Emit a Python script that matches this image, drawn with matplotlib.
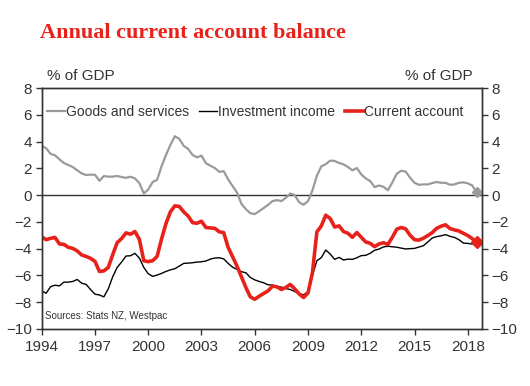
import numpy as np
import matplotlib
matplotlib.use("Agg")
import matplotlib.pyplot as plt

# quarterly series, % of GDP, 1994Q1 .. 2018Q3
goods_services = [
    3.68, 3.5, 3.08, 2.97, 2.67, 2.4, 2.25, 2.1, 1.85, 1.62, 1.5, 1.53, 1.52, 1.07, 1.42, 1.38,
    1.38, 1.43, 1.35, 1.29, 1.37, 1.25, 0.9, 0.12, 0.42, 0.98,
    1.15, 2.15, 3.0, 3.75, 4.4, 4.2, 3.68, 3.45, 3.0, 2.82, 2.95, 2.38, 2.2, 2.02, 1.74, 1.79,
    1.18, 0.68, 0.2, -0.65, -1.05, -1.35, -1.42,
    -1.2, -0.97, -0.73, -0.45, -0.37, -0.45, -0.2, 0.12, 0.0, -0.53, -0.72, -0.45, 0.35, 1.45,
    2.15, 2.31, 2.58, 2.55, 2.4, 2.3, 2.1, 1.85, 2.02, 1.55, 1.25, 1.05,
    0.6, 0.72, 0.62, 0.36, 0.95, 1.6, 1.82, 1.76, 1.3, 0.92, 0.77, 0.8, 0.8, 0.9, 0.98, 0.92,
    0.92, 0.77, 0.8, 0.92, 0.95, 0.88, 0.72, 0.2,
]
investment_income = [
    -7.16, -7.33, -6.84, -6.73, -6.78, -6.5, -6.5, -6.45, -6.3, -6.58, -6.67, -7.05, -7.4, -7.46,
    -7.6, -7.0, -6.1, -5.4, -5.0, -4.55, -4.53, -4.35, -4.7, -5.4, -5.87, -6.07,
    -5.97, -5.85, -5.7, -5.58, -5.5, -5.3, -5.1, -5.08, -5.05, -5.0, -4.98, -4.92, -4.78, -4.7,
    -4.68, -4.76, -5.1, -5.38, -5.55, -5.72, -5.8, -6.15, -6.33,
    -6.45, -6.55, -6.7, -6.72, -6.8, -6.88, -6.98, -7.05, -7.2, -7.35, -7.45, -7.21, -6.0, -4.9,
    -4.67, -4.1, -4.4, -4.8, -4.65, -4.85, -4.78, -4.8, -4.68, -4.52, -4.5, -4.35,
    -4.12, -4.03, -3.87, -3.82, -3.86, -3.89, -3.96, -4.02, -4.0, -3.98, -3.88, -3.78, -3.5, -3.2,
    -3.1, -3.04, -2.95, -3.08, -3.16, -3.33, -3.58, -3.61, -3.65, -3.68,
]
current_account = [
    -3.11, -3.33, -3.23, -3.16, -3.65, -3.68, -3.9, -3.98, -4.17, -4.47, -4.58, -4.72, -4.95, -5.7,
    -5.66, -5.4, -4.45, -3.55, -3.25, -2.82, -2.92, -2.72, -3.3, -4.9, -4.97, -4.9,
    -4.58, -3.28, -2.12, -1.25, -0.8, -0.85, -1.25, -1.57, -2.06, -2.1, -1.95, -2.42, -2.45, -2.48,
    -2.74, -2.8, -3.9, -4.6, -5.3, -6.1, -6.9, -7.6, -7.78,
    -7.55, -7.35, -7.15, -6.8, -6.85, -7.05, -6.9, -6.67, -7.0, -7.38, -7.65, -7.3, -5.8, -2.75,
    -2.3, -1.5, -1.75, -2.38, -2.3, -2.72, -2.85, -3.15, -2.8, -3.15, -3.5, -3.6,
    -3.85, -3.65, -3.56, -3.68, -3.15, -2.55, -2.42, -2.52, -3.0, -3.33, -3.36, -3.22, -3.02, -2.8,
    -2.48, -2.32, -2.22, -2.5, -2.6, -2.68, -2.85, -3.02, -3.25, -3.53,
]
years = 1994 + np.arange(len(current_account)) * 0.25

year_ticks = [1994, 1997, 2000, 2003, 2006, 2009, 2012, 2015, 2018]
value_ticks = [8, 6, 4, 2, 0, -2, -4, -6, -8, -10]

RED = "#e8221b"
GREY = "#9a9a9a"
AXC = "#333333"

plt.rcParams["font.family"] = ["Liberation Sans", "DejaVu Sans"]

fig = plt.figure(figsize=(5.3, 3.86), dpi=100)
ax = fig.add_axes([0.0787, 0.1477, 0.8307, 0.6243])

ax.axhline(0, color=AXC, lw=1.0, zorder=1)
ax.plot(years, goods_services, color=GREY, lw=1.6, label="Goods and services", zorder=2)
ax.plot(years, investment_income, color="black", lw=1.0, label="Investment income", zorder=3)
ax.plot(years, current_account, color=RED, lw=2.6, label="Current account", zorder=4)
ax.plot(years[-1], goods_services[-1], marker="D", color=GREY, ms=5.5, zorder=5)
ax.plot(years[-1], current_account[-1], marker="D", color=RED, ms=6, zorder=5)

ax.set_xlim(1994, 2018.8)
ax.set_ylim(-10, 8)
ax.set_xticks(year_ticks)
ax.set_yticks(value_ticks)

ax2 = ax.twinx()
ax2.set_ylim(-10, 8)
ax2.set_yticks(value_ticks)

for a in (ax, ax2):
    for s in a.spines.values():
        s.set_color(AXC)
        s.set_linewidth(1.0)
    a.tick_params(direction="out", length=4, width=1, color=AXC,
                  labelcolor=AXC, labelsize=11, pad=3)
ax.tick_params(axis="x", pad=4)

leg = ax.legend(loc="center left", ncol=3, frameon=False, fontsize=10,
                handlelength=1.3, handletextpad=0.05, columnspacing=0.75,
                bbox_to_anchor=(0.012, 0.9), borderaxespad=0, borderpad=0)
for t in leg.get_texts():
    t.set_color(AXC)

ax.text(0.008, 0.035, "Sources: Stats NZ, Westpac", transform=ax.transAxes,
        fontsize=7, color=AXC, va="bottom", ha="left")

fig.text(47 / 530, 1 - 76 / 386, "% of GDP", fontsize=11, color=AXC, va="center", ha="left")
fig.text(473 / 530, 1 - 76 / 386, "% of GDP", fontsize=11, color=AXC, va="center", ha="right")

fig.text(40 / 530, 1 - 38 / 386, "Annual current account balance", fontsize=16,
         fontweight="bold", family="Liberation Serif", color=RED, va="baseline", ha="left")

fig.savefig("out.png", dpi=100)
